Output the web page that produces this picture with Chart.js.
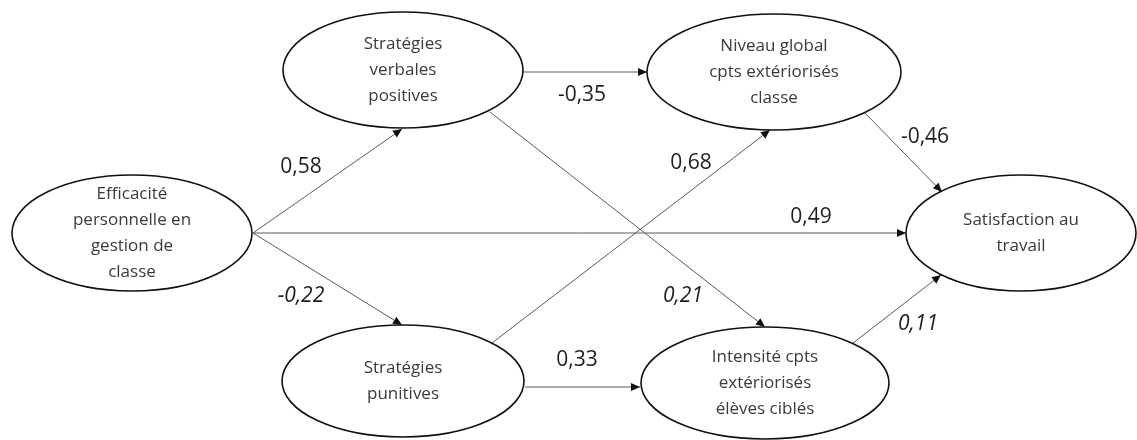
<!DOCTYPE html>
<html>
<head>
<meta charset="utf-8">
<script src="https://cdn.jsdelivr.net/npm/chart.js@4.4.0/dist/chart.umd.min.js"></script>
<style>
  html, body { margin: 0; padding: 0; background: #fff; }
  #wrap { width: 1137px; height: 440px; }
</style>
</head>
<body>
<div id="wrap"><canvas id="c" width="1137" height="440"></canvas></div>
<script>
// variables (nodes) of the path model
const nodeLabels = [
  ['Efficacité', 'personnelle en', 'gestion de', 'classe'],
  ['Stratégies', 'verbales', 'positives'],
  ['Stratégies', 'punitives'],
  ['Niveau global', 'cpts extériorisés', 'classe'],
  ['Intensité cpts', 'extériorisés', 'élèves ciblés'],
  ['Satisfaction au', 'travail']
];
const nodeX = [132, 403, 403, 774, 765, 1021];
const nodeY = [233, 70, 381, 72, 383, 233];
const nodeRx = [120, 120, 121, 127, 124, 115];
const nodeRy = [58, 58, 56, 58, 56, 58];

// paths: from, to, coefficient
const pathFrom = [0, 0, 0, 1, 1, 2, 2, 3, 4];
const pathTo   = [1, 2, 5, 3, 4, 3, 4, 5, 5];
const pathCoef = ['0,58', '-0,22', '0,49', '-0,35', '0,21', '0,68', '0,33', '-0,46', '0,11'];
const pathItalic = [false, true, false, false, true, false, false, false, true];

// line end points (x1, y1, x2, y2) on the ellipse borders
const pathX1 = [253, 253, 253, 523, 490, 492, 525, 865, 853];
const pathY1 = [233, 233, 233, 72, 112, 343, 387, 113, 343];
const pathX2 = [402, 402, 906, 647, 765, 770, 640, 942, 941];
const pathY2 = [129, 325, 233, 72, 327, 130, 387, 192, 275];

// coefficient label positions
const coefX = [301, 301, 811, 582, 683, 691, 577, 925, 918];
const coefY = [167, 296, 217, 95, 296, 163, 360, 137, 324];

const datasets = pathFrom.map((f, i) => ({
  label: nodeLabels[f].join(' ') + ' -> ' + nodeLabels[pathTo[i]].join(' '),
  data: [{ x: pathX1[i], y: pathY1[i] }, { x: pathX2[i], y: pathY2[i] }],
  showLine: true,
  borderColor: '#5a5a5a',
  borderWidth: 1,
  pointRadius: 0
}));

const diagramPlugin = {
  id: 'diagram',
  afterDatasetsDraw(chart) {
    const ctx = chart.ctx;
    const xs = chart.scales.x, ys = chart.scales.y;
    ctx.save();

    // ellipses with text
    nodeLabels.forEach((lines, i) => {
      const cx = xs.getPixelForValue(nodeX[i]);
      const cy = ys.getPixelForValue(nodeY[i]);
      const rx = xs.getPixelForValue(nodeX[i] + nodeRx[i]) - cx;
      const ry = ys.getPixelForValue(nodeY[i] + nodeRy[i]) - cy;
      ctx.beginPath();
      ctx.ellipse(cx, cy, Math.abs(rx), Math.abs(ry), 0, 0, Math.PI * 2);
      ctx.fillStyle = '#fff';
      ctx.fill();
      ctx.lineWidth = 1.6;
      ctx.strokeStyle = '#111';
      ctx.stroke();

      ctx.fillStyle = '#3a3a3a';
      ctx.font = '17px "Open Sans", sans-serif';
      ctx.textAlign = 'center';
      ctx.textBaseline = 'middle';
      const lh = 26;
      const top = cy - (lines.length - 1) * lh / 2;
      lines.forEach((t, k) => ctx.fillText(t, cx, top + k * lh));
    });

    // arrow heads
    pathFrom.forEach((f, i) => {
      const x1 = xs.getPixelForValue(pathX1[i]), y1 = ys.getPixelForValue(pathY1[i]);
      const x2 = xs.getPixelForValue(pathX2[i]), y2 = ys.getPixelForValue(pathY2[i]);
      const a = Math.atan2(y2 - y1, x2 - x1);
      const len = 9, w = 4;
      ctx.beginPath();
      ctx.moveTo(x2, y2);
      ctx.lineTo(x2 - len * Math.cos(a) + w * Math.sin(a), y2 - len * Math.sin(a) - w * Math.cos(a));
      ctx.lineTo(x2 - len * Math.cos(a) - w * Math.sin(a), y2 - len * Math.sin(a) + w * Math.cos(a));
      ctx.closePath();
      ctx.fillStyle = '#111';
      ctx.fill();
    });

    // coefficients
    pathCoef.forEach((t, i) => {
      ctx.font = (pathItalic[i] ? 'italic ' : '') + '21px "Open Sans", sans-serif';
      ctx.fillStyle = '#1e1e1e';
      ctx.textAlign = 'center';
      ctx.textBaseline = 'middle';
      ctx.fillText(t, xs.getPixelForValue(coefX[i]), ys.getPixelForValue(coefY[i]));
    });
    ctx.restore();
  }
};

new Chart(document.getElementById('c'), {
  type: 'scatter',
  data: { datasets },
  options: {
    responsive: false,
    animation: false,
    layout: { padding: 0 },
    plugins: { legend: { display: false }, tooltip: { enabled: false } },
    scales: {
      x: { type: 'linear', min: 0, max: 1137, display: false },
      y: { type: 'linear', min: 0, max: 440, reverse: true, display: false }
    }
  },
  plugins: [diagramPlugin]
});
</script>
</body>
</html>
